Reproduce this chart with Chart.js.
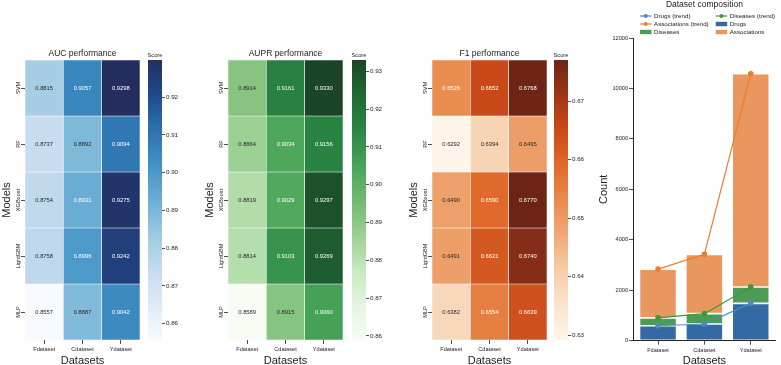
<!DOCTYPE html>
<html>
<head>
<meta charset="utf-8">
<script src="https://cdn.jsdelivr.net/npm/chart.js@4.4.1/dist/chart.umd.min.js"></script>
<style>
html, body { margin: 0; padding: 0; background: #fff; width: 781px; height: 365px; overflow: hidden; }
canvas { position: absolute; }
</style>
</head>
<body>
<canvas id="aucMap" width="140" height="345" style="left:0px;top:40px"></canvas>
<canvas id="aucBar" width="39" height="345" style="left:148px;top:40px"></canvas>
<canvas id="auprMap" width="140" height="345" style="left:203px;top:40px"></canvas>
<canvas id="auprBar" width="39" height="345" style="left:352px;top:40px"></canvas>
<canvas id="f1Map" width="140" height="345" style="left:407px;top:40px"></canvas>
<canvas id="f1Bar" width="39" height="345" style="left:554px;top:40px"></canvas>
<canvas id="compo" width="196" height="385" style="left:585px;top:0px"></canvas>
<script>
// data
const datasets = ['Fdataset', 'Cdataset', 'Ydataset'];
const models = ['SVM', 'RF', 'XGBoost', 'LightGBM', 'MLP'];

const aucScores = [
    [0.8815, 0.9057, 0.9298],
    [0.8737, 0.8892, 0.9094],
    [0.8754, 0.8931, 0.9275],
    [0.8758, 0.8996, 0.9242],
    [0.8557, 0.8887, 0.9042],
];
const auprScores = [
    [0.8914, 0.9161, 0.9330],
    [0.8864, 0.9034, 0.9156],
    [0.8819, 0.9029, 0.9297],
    [0.8814, 0.9103, 0.9269],
    [0.8589, 0.8915, 0.9060],
];
const f1Scores = [
    [0.6526, 0.6652, 0.6768],
    [0.6292, 0.6394, 0.6495],
    [0.6490, 0.6590, 0.6770],
    [0.6491, 0.6621, 0.6740],
    [0.6382, 0.6554, 0.6639],
];
const aucTicks = [0.86, 0.87, 0.88, 0.89, 0.90, 0.91, 0.92];
const auprTicks = [0.86, 0.87, 0.88, 0.89, 0.90, 0.91, 0.92, 0.93];
const f1Ticks = [0.63, 0.64, 0.65, 0.66, 0.67];

const drugs = [593, 663, 1480];
const diseases = [313, 409, 650];
const associations = [1933, 2352, 8450];
const drugsTrend = [593, 663, 1480];
const diseasesTrend = [906, 1072, 2130];
const associationsTrend = [2839, 3424, 10580];
const countTicks = [0, 2000, 4000, 6000, 8000, 10000, 12000];

const FONT = "'Liberation Sans', Arial, sans-serif";
const INK = '#222222';
Chart.defaults.font.family = FONT;

const blues = ['#f7fbff', '#deebf7', '#c6dbef', '#9ecae1', '#6baed6', '#4292c6', '#2c71b0', '#1f4a8c', '#232e5f'];
const greens = ['#f7fcf5', '#e5f5e0', '#c7e9c0', '#9ccf93', '#72b970', '#47a357', '#2a8644', '#1f6a33', '#1b4526'];
const oranges = ['#fff5eb', '#fbe4cf', '#f6cda7', '#efaa77', '#e98a4e', '#e06a2b', '#cb4a18', '#9f3617', '#6b2416'];

function hexToRgb(h) {
    const n = parseInt(h.slice(1), 16);
    return [(n >> 16) & 255, (n >> 8) & 255, n & 255];
}

function cmap(stops, t) {
    t = Math.min(1, Math.max(0, t));
    const p = t * (stops.length - 1);
    const i = Math.min(stops.length - 2, Math.floor(p));
    const f = p - i;
    const a = hexToRgb(stops[i]), b = hexToRgb(stops[i + 1]);
    return a.map((v, k) => Math.round(v + (b[k] - v) * f));
}

function luminance(rgb) {
    const l = rgb.map(v => {
        v = v / 255;
        return v <= 0.03928 ? v / 12.92 : Math.pow((v + 0.055) / 1.055, 2.4);
    });
    return 0.2126 * l[0] + 0.7152 * l[1] + 0.0722 * l[2];
}

function text(ctx, str, x, y, size, opts = {}) {
    ctx.save();
    ctx.font = size + 'px ' + FONT;
    ctx.fillStyle = opts.color || INK;
    ctx.textAlign = opts.align || 'center';
    ctx.textBaseline = 'middle';
    ctx.translate(x, y);
    if (opts.rot) ctx.rotate(opts.rot);
    ctx.fillText(str, 0, 0);
    ctx.restore();
}

function heatmap(id, title, scores, stops) {
    const all = scores.flat();
    const vmin = Math.min(...all), vmax = Math.max(...all);
    const colorOf = v => cmap(stops, (v - vmin) / (vmax - vmin));
    new Chart(document.getElementById(id), {
        type: 'bar',
        data: {
            labels: datasets,
            datasets: models.map((m, i) => ({
                label: m,
                data: scores[i].map(() => 1),
                backgroundColor: scores[i].map(v => 'rgb(' + colorOf(v).join(',') + ')'),
                borderColor: 'rgba(255,255,255,0.75)',
                borderWidth: 0.6,
                borderSkipped: false,
                barPercentage: 1,
                categoryPercentage: 1,
            }))
        },
        options: {
            responsive: false,
            animation: false,
            devicePixelRatio: 1,
            layout: { padding: { top: 20 } },
            plugins: { legend: { display: false }, tooltip: { enabled: false } },
            scales: {
                x: {
                    stacked: true,
                    border: { display: false },
                    grid: { offset: false, drawOnChartArea: false, tickLength: 4, color: INK, lineWidth: 0.8 },
                    ticks: { font: { size: 5.6 }, color: INK, padding: 2, maxRotation: 0 },
                    title: { display: true, text: 'Datasets', font: { size: 11 }, color: INK, padding: { top: 0, bottom: 17 } },
                    afterFit: s => { s.height = 45; }
                },
                y: {
                    type: 'linear',
                    stacked: true,
                    reverse: true,
                    min: 0,
                    max: 5,
                    bounds: 'data',
                    border: { display: false },
                    grid: { drawOnChartArea: false, tickLength: 4, color: INK, lineWidth: 0.8 },
                    ticks: { display: false },
                    afterBuildTicks: s => { s.ticks = models.map((m, i) => ({ value: i + 0.5 })); },
                    title: { display: true, text: 'Models', font: { size: 11 }, color: INK, padding: { top: 0, bottom: 0 } },
                    afterFit: s => { s.width = 25; }
                }
            }
        },
        plugins: [{
            id: 'cells',
            afterDatasetsDraw(chart) {
                const ctx = chart.ctx;
                scores.forEach((row, i) => {
                    chart.getDatasetMeta(i).data.forEach((el, j) => {
                        const dark = luminance(colorOf(row[j])) > 0.408;
                        text(ctx, row[j].toFixed(4), el.x, (el.y + el.base) / 2, 5.8, { color: dark ? '#262626' : '#ffffff' });
                    });
                });
            },
            afterDraw(chart) {
                const ctx = chart.ctx, area = chart.chartArea, ys = chart.scales.y;
                text(ctx, title, (area.left + area.right) / 2, area.top - 6, 8.5);
                models.forEach((m, i) => {
                    text(ctx, m, area.left - 6.5, ys.getPixelForValue(i + 0.5), 5.6, { rot: -Math.PI / 2 });
                });
            }
        }]
    });
}

function colorbar(id, scores, stops, ticks) {
    const all = scores.flat();
    const vmin = Math.min(...all), vmax = Math.max(...all);
    new Chart(document.getElementById(id), {
        type: 'bar',
        data: {
            labels: ['Score'],
            datasets: [{
                data: [[vmin, vmax]],
                backgroundColor: c => {
                    const area = c.chart.chartArea;
                    if (!area) return stops[0];
                    const g = c.chart.ctx.createLinearGradient(0, area.bottom, 0, area.top);
                    stops.forEach((s, i) => g.addColorStop(i / (stops.length - 1), s));
                    return g;
                },
                borderWidth: 0,
                barPercentage: 1,
                categoryPercentage: 1,
            }]
        },
        options: {
            responsive: false,
            animation: false,
            devicePixelRatio: 1,
            layout: { padding: { top: 20, bottom: 45 } },
            plugins: { legend: { display: false }, tooltip: { enabled: false } },
            scales: {
                x: { display: false },
                y: {
                    position: 'right',
                    min: vmin,
                    max: vmax,
                    bounds: 'data',
                    border: { display: false },
                    grid: { drawOnChartArea: false, tickLength: 3, color: INK, lineWidth: 0.8 },
                    ticks: { font: { size: 6.2 }, color: INK, padding: 1, callback: v => v.toFixed(2) },
                    afterBuildTicks: s => { s.ticks = ticks.map(v => ({ value: v })); },
                    afterFit: s => { s.width = 25; }
                }
            }
        },
        plugins: [{
            id: 'scoreLabel',
            afterDraw(chart) {
                const area = chart.chartArea;
                text(chart.ctx, 'Score', (area.left + area.right) / 2, area.top - 5, 5.7);
            }
        }]
    });
}

heatmap('aucMap', 'AUC performance', aucScores, blues);
colorbar('aucBar', aucScores, blues, aucTicks);
heatmap('auprMap', 'AUPR performance', auprScores, greens);
colorbar('auprBar', auprScores, greens, auprTicks);
heatmap('f1Map', 'F1 performance', f1Scores, oranges);
colorbar('f1Bar', f1Scores, oranges, f1Ticks);

// dataset composition: stacked bars plus cumulative trend lines
const pts = arr => arr.map((v, i) => ({ x: i, y: v }));
const trendLine = (label, arr, color, stack) => ({
    type: 'line', label, data: pts(arr), stack,
    borderColor: color, backgroundColor: color, pointBackgroundColor: color, pointBorderColor: color,
    borderWidth: 1.2, pointRadius: 2.2, order: 0,
});
const barSet = (label, arr, color) => ({
    label, data: pts(arr), stack: 'bars',
    backgroundColor: color, borderColor: 'rgba(255,255,255,0.5)', borderWidth: 0.8, borderSkipped: false,
    categoryPercentage: 0.8, barPercentage: 1, order: 1,
});

const compo = new Chart(document.getElementById('compo'), {
    type: 'bar',
    data: {
        datasets: [
            trendLine('Drugs (trend)', drugsTrend, '#4a8bc4', 't1'),
            trendLine('Diseases (trend)', diseasesTrend, '#3a993a', 't2'),
            trendLine('Associations (trend)', associationsTrend, '#ee7a2c', 't3'),
            barSet('Drugs', drugs, '#3569a3'),
            barSet('Diseases', diseases, '#4e9b58'),
            barSet('Associations', associations, '#ea965f'),
        ]
    },
    options: {
        responsive: false,
        animation: false,
        devicePixelRatio: 1,
        layout: { padding: { top: 38, right: 2 } },
        plugins: { legend: { display: false }, tooltip: { enabled: false } },
        scales: {
            x: {
                type: 'linear',
                offset: false,
                min: -0.54,
                max: 2.54,
                bounds: 'data',
                afterBuildTicks: s => { s.ticks = datasets.map((d, i) => ({ value: i })); },
                ticks: { font: { size: 5.6 }, color: INK, padding: 2, maxRotation: 0, callback: v => datasets[v] },
                grid: { offset: false, drawOnChartArea: false, tickLength: 4, color: INK, lineWidth: 0.8 },
                border: { color: INK, width: 1 },
                title: { display: true, text: 'Datasets', font: { size: 11 }, color: INK, padding: { top: 0, bottom: 17 } },
                afterFit: s => { s.height = 44.3; }
            },
            y: {
                stacked: true,
                min: 0,
                max: 12000,
                bounds: 'data',
                afterBuildTicks: s => { s.ticks = countTicks.map(v => ({ value: v })); },
                ticks: { font: { size: 5.6 }, color: INK, padding: 1, callback: v => String(v) },
                grid: { drawOnChartArea: false, tickLength: 4, color: INK, lineWidth: 0.8 },
                border: { color: INK, width: 1 },
                title: { display: true, text: 'Count', font: { size: 11 }, color: INK, padding: { top: 12.4, bottom: 0 } },
                afterFit: s => { s.width = 48; }
            }
        }
    },
    plugins: [{
        id: 'titleLegend',
        afterDraw(chart) {
            const ctx = chart.ctx, area = chart.chartArea;
            text(ctx, 'Dataset composition', (area.left + area.right) / 2, 4.5, 8.5);
            // two-column legend, filled row by row
            const colX = [area.left + 7, area.left + 82.7];
            const rowY = [area.top - 22, area.top - 14, area.top - 6];
            chart.data.datasets.forEach((ds, k) => {
                const x = colX[k % 2], y = rowY[Math.floor(k / 2)];
                ctx.save();
                if (ds.type === 'line') {
                    ctx.strokeStyle = ds.borderColor;
                    ctx.lineWidth = 1.2;
                    ctx.beginPath();
                    ctx.moveTo(x, y);
                    ctx.lineTo(x + 11.5, y);
                    ctx.stroke();
                    ctx.fillStyle = ds.borderColor;
                    ctx.beginPath();
                    ctx.arc(x + 5.75, y, 2, 0, Math.PI * 2);
                    ctx.fill();
                } else {
                    ctx.fillStyle = ds.backgroundColor;
                    ctx.fillRect(x, y - 2.2, 11.5, 4.4);
                }
                ctx.restore();
                text(ctx, ds.label, x + 14, y, 6.2, { align: 'left' });
            });
        }
    }]
});
</script>
</body>
</html>
